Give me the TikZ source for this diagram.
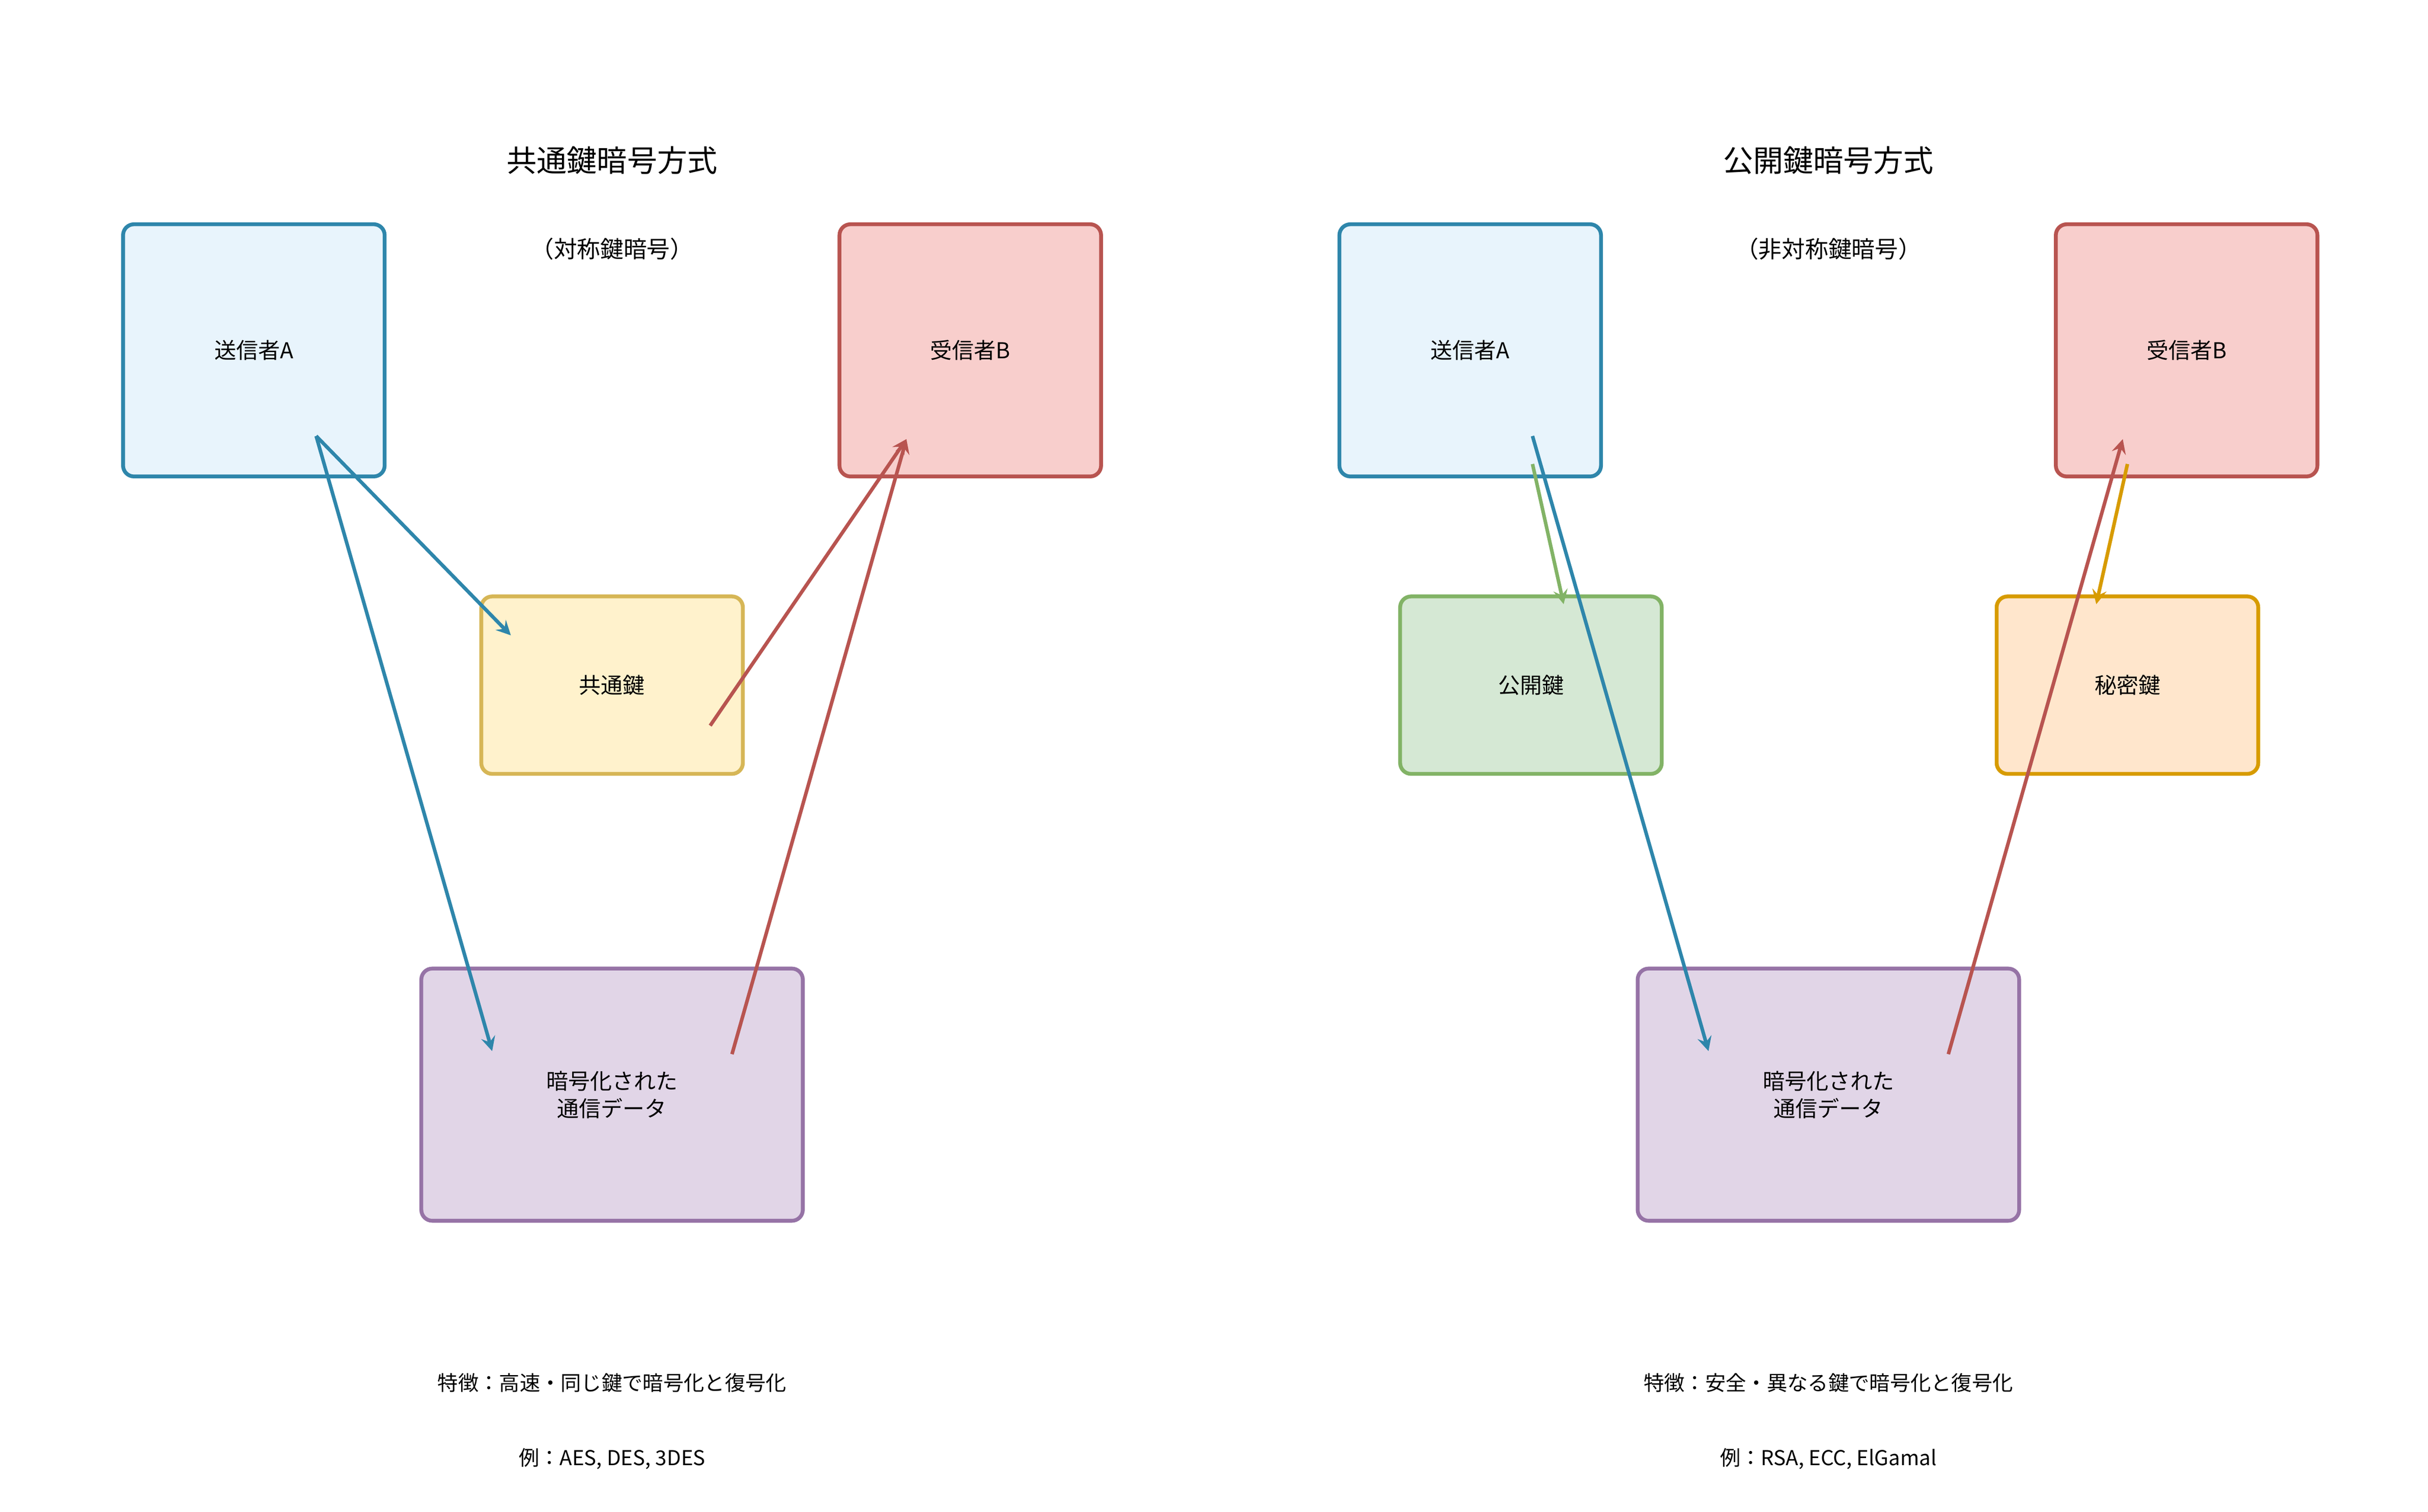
\documentclass[tikz,border=0pt]{standalone}
\usepackage{fontspec}
\setmainfont{Noto Sans CJK JP}
\usetikzlibrary{positioning}
\definecolor{sendline}{HTML}{2E86AB}
\definecolor{sendfill}{HTML}{E8F4FC}
\definecolor{recvline}{HTML}{B85450}
\definecolor{recvfill}{HTML}{F8CECC}
\definecolor{keyline}{HTML}{D6B656}
\definecolor{keyfill}{HTML}{FFF2CC}
\definecolor{dataline}{HTML}{9673A6}
\definecolor{datafill}{HTML}{E1D5E7}
\definecolor{publine}{HTML}{82B366}
\definecolor{pubfill}{HTML}{D5E8D4}
\definecolor{privline}{HTML}{D79B00}
\definecolor{privfill}{HTML}{FFE6CC}
\tikzset{
  box/.style={rounded corners=4pt, line width=1.4pt, font=\fontsize{8}{10}\selectfont, align=center, inner sep=0pt},
  party/.style={box, minimum width=3.36cm, minimum height=3.24cm},
  keybox/.style={box, minimum width=3.36cm, minimum height=2.28cm},
  databox/.style={box, minimum width=4.9cm, minimum height=3.24cm, draw=dataline, fill=datafill},
  flow/.style={-stealth, line width=1.3pt},
  title/.style={font=\fontsize{11}{13}\selectfont},
  note/.style={font=\fontsize{7.5}{9}\selectfont}
}
\begin{document}
\begin{tikzpicture}[x=0.02cm,y=-0.02cm]
\useasboundingbox (0,0) rectangle (1559,971);
% left panel
\node[title] (t1) at (393,103) {共通鍵暗号方式};
\node[note, font=\fontsize{8.5}{10}\selectfont] (s1) at (393,160) {（対称鍵暗号）};
\node[party, draw=sendline, fill=sendfill] (sa1) at (163,225) {送信者A};
\node[party, draw=recvline, fill=recvfill] (rb1) at (623,225) {受信者B};
\node[keybox, draw=keyline, fill=keyfill] (key1) at (393,440) {共通鍵};
\node[databox] (data1) at (393,703) {暗号化された\\通信データ};
\node[note] (f1) at (393,888) {特徴：高速・同じ鍵で暗号化と復号化};
\node[note] (e1) at (393,937) {例：\textit{AES, DES, 3DES}};

\coordinate (sa1o) at (203,280);
\coordinate (key1i) at (328,408);
\coordinate (key1o) at (456,466);
\coordinate (data1i) at (316,675);
\coordinate (data1o) at (470,677);
\coordinate (rb1i) at (582,282);
\draw[flow, sendline] (sa1o) -- (key1i);
\draw[flow, sendline] (sa1o) -- (data1i);
\draw[flow, recvline] (key1o) -- (rb1i);
\draw[flow, recvline] (data1o) -- (rb1i);

% right panel
\node[title] (t2) at (1174,103) {公開鍵暗号方式};
\node[note, font=\fontsize{8.5}{10}\selectfont] (s2) at (1174,160) {（非対称鍵暗号）};
\node[party, draw=sendline, fill=sendfill] (sa2) at (944,225) {送信者A};
\node[party, draw=recvline, fill=recvfill] (rb2) at (1404,225) {受信者B};
\node[keybox, draw=publine, fill=pubfill] (pub) at (983,440) {公開鍵};
\node[keybox, draw=privline, fill=privfill] (priv) at (1366,440) {秘密鍵};
\node[databox] (data2) at (1174,703) {暗号化された\\通信データ};
\node[note] (f2) at (1174,888) {特徴：安全・異なる鍵で暗号化と復号化};
\node[note] (e2) at (1174,937) {例：\textit{RSA, ECC, ElGamal}};

\coordinate (sa2o) at (984,280);
\coordinate (sa2k) at (984,298);
\coordinate (pubi) at (1004,388);
\coordinate (rb2k) at (1366,298);
\coordinate (privi) at (1346,388);
\coordinate (data2i) at (1097,675);
\coordinate (data2o) at (1251,677);
\coordinate (rb2i) at (1363,282);
\draw[flow, publine] (sa2k) -- (pubi);
\draw[flow, sendline] (sa2o) -- (data2i);
\draw[flow, privline] (rb2k) -- (privi);
\draw[flow, recvline] (data2o) -- (rb2i);
\end{tikzpicture}
\end{document}
